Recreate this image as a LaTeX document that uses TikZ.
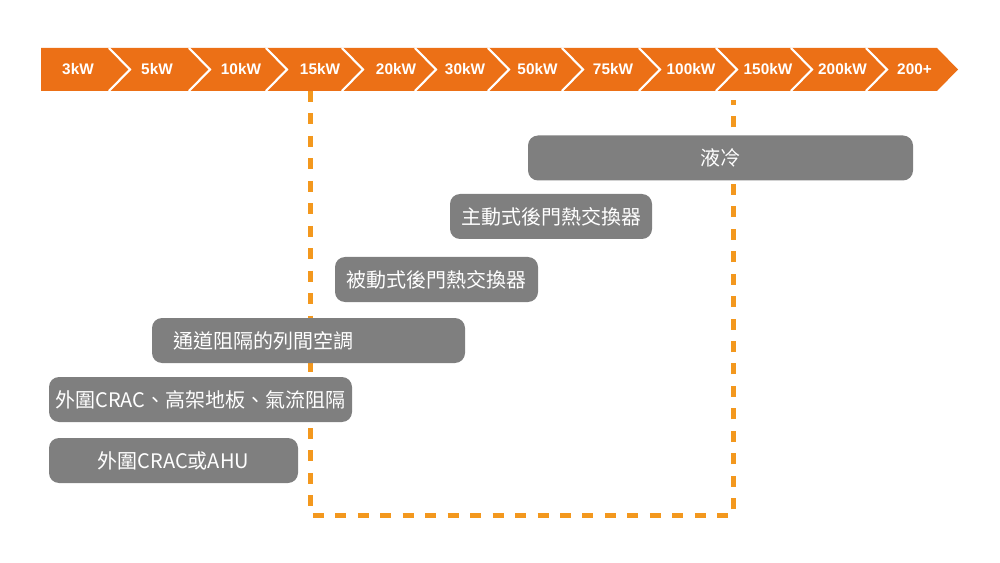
\documentclass[tikz,border=0pt]{standalone}
\usepackage{fontspec}
\setmainfont{Liberation Sans}
\newfontfamily\cjk{Noto Sans CJK TC}

\definecolor{barorange}{RGB}{236,112,22}
\definecolor{dashorange}{RGB}{243,152,30}
\definecolor{boxgray}{RGB}{127,127,127}

\tikzset{every picture/.style={line width=0.75pt}}
\tikzset{
  chev/.style={draw=white, line width=1.6pt},
  kwlabel/.style={text=white, inner sep=0pt, font=\fontsize{11.5}{13}\selectfont\bfseries},
  dashbox/.style={draw=dashorange, line width=3.75pt, dash pattern=on 8.25pt off 8.6pt},
  graybox/.style={fill=boxgray, rounded corners=7.5pt, text=white, minimum height=33.75pt,
    inner sep=0pt, font=\fontsize{15}{18}\selectfont\cjk}
}

\begin{document}
\begin{tikzpicture}[x=0.75pt,y=0.75pt,yscale=-1,xscale=1]
		\useasboundingbox (0,0) rectangle (1000,563);

		%Shape: Arrow bar
		\fill [barorange] (41,48) -- (937,48) -- (958,69.5) -- (937,91) -- (41,91) -- cycle ;
		%Chevron lines
		\draw [chev] (109,48) -- (130,69.5) -- (109,91) ;
		\draw [chev] (189,48) -- (210,69.5) -- (189,91) ;
		\draw [chev] (266,48) -- (287,69.5) -- (266,91) ;
		\draw [chev] (342,48) -- (363,69.5) -- (342,91) ;
		\draw [chev] (415,48) -- (436,69.5) -- (415,91) ;
		\draw [chev] (488,48) -- (509,69.5) -- (488,91) ;
		\draw [chev] (562,48) -- (583,69.5) -- (562,91) ;
		\draw [chev] (639,48) -- (660,69.5) -- (639,91) ;
		\draw [chev] (716,48) -- (737,69.5) -- (716,91) ;
		\draw [chev] (791,48) -- (812,69.5) -- (791,91) ;
		\draw [chev] (866,48) -- (887,69.5) -- (866,91) ;

		% Text Node
		\node [kwlabel] (kw3) at (78,69.5) {3kW};
		% Text Node
		\node [kwlabel] (kw5) at (157,69.5) {5kW};
		% Text Node
		\node [kwlabel] (kw10) at (241,69.5) {10kW};
		% Text Node
		\node [kwlabel] (kw15) at (320,69.5) {15kW};
		% Text Node
		\node [kwlabel] (kw20) at (396,69.5) {20kW};
		% Text Node
		\node [kwlabel] (kw30) at (465,69.5) {30kW};
		% Text Node
		\node [kwlabel] (kw50) at (537.5,69.5) {50kW};
		% Text Node
		\node [kwlabel] (kw75) at (613,69.5) {75kW};
		% Text Node
		\node [kwlabel] (kw100) at (691,69.5) {100kW};
		% Text Node
		\node [kwlabel] (kw150) at (768,69.5) {150kW};
		% Text Node
		\node [kwlabel] (kw200) at (842.5,69.5) {200kW};
		% Text Node
		\node [kwlabel] (kwmore) at (914.5,69.5) {200+};

		%Dashed range 15kW - 150kW
		\coordinate (dtl) at (310.5,91);
		\coordinate (dbl) at (310.5,515.5);
		\coordinate (dbr) at (733.5,515.5);
		\coordinate (dtr) at (733.5,100);
		\draw [dashbox] (dtl) -- (dbl) -- (dbr) -- (dtr) ;

		% Box Nodes
		\node [graybox, minimum width=288.75pt] (liquid) at (720.5,158) {液冷};
		\node [graybox, minimum width=151.5pt] (activerdhx) at (551,216.5) {主動式後門熱交換器};
		\node [graybox, minimum width=152.25pt] (passiverdhx) at (436.5,279.5) {被動式後門熱交換器};
		\node [graybox, text width=203.25pt, inner xsep=15.75pt, align=left] (inrow) at (308.5,340.5) {通道阻隔的列間空調};
		\node [graybox, minimum width=227.25pt] (raisedfloor) at (200.5,399.5) {外圍CRAC、高架地板、氣流阻隔};
		\node [graybox, minimum width=186.75pt] (perimeter) at (173.5,460.5) {外圍CRAC或AHU};

\end{tikzpicture}
\end{document}
